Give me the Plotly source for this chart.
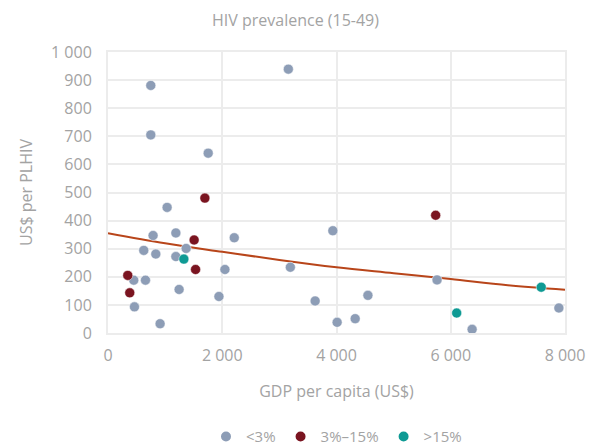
import plotly.graph_objects as go

# <3% group
low_gdp = [3157, 749, 749, 1754, 1035, 789, 1188, 2210, 626, 837, 1368, 1188, 2047,
           451, 656, 1245, 1942, 463, 912, 3192, 3936, 3626, 4011, 4327, 4550, 5760, 6374, 7893]
low_cost = [939, 881, 705, 640, 447, 347, 356, 339, 294, 281, 301, 272, 226,
            188, 188, 155, 130, 93, 33, 234, 364, 114, 38, 51, 134, 189, 13, 89]

# 3%-15% group
mid_gdp = [1696, 1508, 1533, 346, 381, 5736]
mid_cost = [480, 331, 226, 205, 143, 419]

# >15% group
high_gdp = [1328, 6104, 7584]
high_cost = [263, 71, 163]

# trend line
trend_gdp = [0, 1000, 2000, 3000, 4000, 5000, 6000, 7000, 8000]
trend_cost = [355, 319, 289, 260, 234, 213, 192, 170, 154]

x_ticks = [0, 2000, 4000, 6000, 8000]
x_labels = ["0", "2 000", "4 000", "6 000", "8 000"]
y_ticks = [0, 100, 200, 300, 400, 500, 600, 700, 800, 900, 1000]
y_labels = ["0", "100", "200", "300", "400", "500", "600", "700", "800", "900", "1 000"]

FONT = "Open Sans"
TXT = "#a3a3a3"
GRID = "#ececec"

fig = go.Figure()
fig.add_trace(go.Scatter(x=trend_gdp, y=trend_cost, mode="lines", line=dict(color="#b8451a", width=2, shape="spline"),
                         showlegend=False, hoverinfo="skip"))
fig.add_trace(go.Scatter(x=low_gdp, y=low_cost, mode="markers", name="<3%",
                         marker=dict(color="#8d9db6", size=10, line=dict(color="white", width=0.5))))
fig.add_trace(go.Scatter(x=mid_gdp, y=mid_cost, mode="markers", name="3%–15%",
                         marker=dict(color="#7a1420", size=10, line=dict(color="white", width=0.5))))
fig.add_trace(go.Scatter(x=high_gdp, y=high_cost, mode="markers", name=">15%",
                         marker=dict(color="#0e9a94", size=10, line=dict(color="white", width=0.5))))

fig.update_layout(
    width=591, height=448,
    margin=dict(l=108, r=26, t=52, b=115, autoexpand=False),
    paper_bgcolor="white", plot_bgcolor="white",
    font=dict(family=FONT, color=TXT, size=15),
    title=dict(text="HIV prevalence (15-49)", x=0.5, xanchor="center", y=0.955, yanchor="middle",
               font=dict(size=16, color=TXT, family=FONT)),
    xaxis=dict(range=[0, 8000], tickvals=x_ticks, ticktext=x_labels, showgrid=True, gridcolor=GRID, gridwidth=2,
               zeroline=False, showline=True, linecolor=GRID, linewidth=2, mirror=True, automargin=False,
               ticks="", ticklabelstandoff=7,
               title=dict(text="GDP per capita (US$)", font=dict(size=16, color=TXT), standoff=21),
               tickfont=dict(size=16, color=TXT)),
    yaxis=dict(range=[0, 1000], tickvals=y_ticks, ticktext=y_labels, showgrid=True, gridcolor=GRID, gridwidth=2,
               zeroline=False, showline=True, linecolor=GRID, linewidth=2, mirror=True, automargin=False,
               ticks="", ticklabelstandoff=11,
               title=dict(text="US$ per PLHIV", font=dict(size=16, color=TXT), standoff=14),
               tickfont=dict(size=16, color=TXT)),
    legend=dict(orientation="h", x=0.5, xanchor="center", yref="container", y=0.025, yanchor="middle",
                font=dict(size=15, color=TXT), itemwidth=30, itemsizing="constant"),
)

fig.write_html("out.html", config={"displayModeBar": False},
               post_script="document.body.style.margin='0px';document.body.style.overflow='hidden';")
